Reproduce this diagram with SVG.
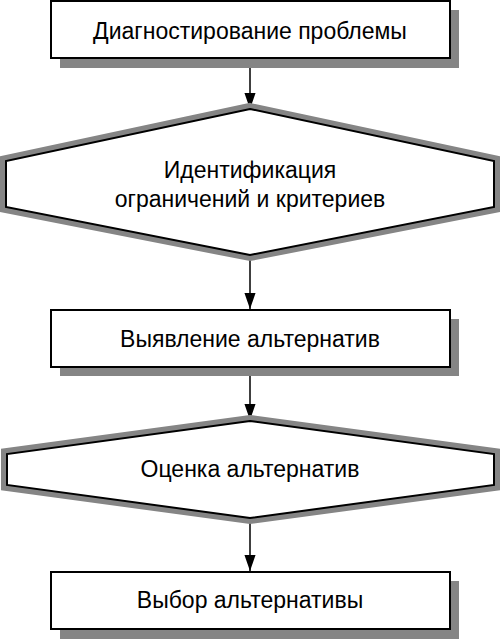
<svg xmlns="http://www.w3.org/2000/svg" width="501" height="639" viewBox="0 0 501 639">
<style>
.shadow{fill:#858585;stroke:none}
.box{fill:#fff;stroke:#000;stroke-width:2}
.hexsh{fill:none;stroke:#858585;stroke-width:12;stroke-linejoin:miter}
.hex{fill:#fff;stroke:#000;stroke-width:2;stroke-linejoin:miter}
.t{font-family:"Liberation Sans",Arial,sans-serif;font-size:23px;fill:#000;text-anchor:middle}
.conn{stroke:#000;stroke-width:1.5;fill:none}
</style>
<defs>
<marker id="ah" markerUnits="userSpaceOnUse" markerWidth="16" markerHeight="24" refX="23" refY="8" viewBox="0 0 23 16" orient="auto">
<path d="M0,0 L23,8 L0,16 Z" fill="#000"/>
</marker>
</defs>
<rect x="0" y="0" width="501" height="639" fill="#fff"/>
<g id="connectors">
<line class="conn" x1="250" y1="58" x2="250" y2="109" marker-end="url(#ah)"/>
<line class="conn" x1="250" y1="255" x2="250" y2="309" marker-end="url(#ah)"/>
<line class="conn" x1="250" y1="367" x2="250" y2="420" marker-end="url(#ah)"/>
<line class="conn" x1="250" y1="518" x2="250" y2="571" marker-end="url(#ah)"/>
</g>
<g id="node1">
<rect class="shadow" x="60" y="10" width="399" height="58"/>
<rect class="box" x="51" y="1" width="399" height="57"/>
<text class="t" x="250" y="39">Диагностирование проблемы</text>
</g>
<g id="node2">
<polygon class="hexsh" points="250,109 494,161 494,207 250,255 6,207 6,161"/>
<polygon class="hex" points="250,109 494,161 494,207 250,255 6,207 6,161"/>
<text class="t" x="250" y="178">Идентификация</text>
<text class="t" x="250" y="207">ограничений и критериев</text>
</g>
<g id="node3">
<rect class="shadow" x="60" y="319" width="399" height="57"/>
<rect class="box" x="51" y="310" width="399" height="57"/>
<text class="t" x="250" y="347">Выявление альтернатив</text>
</g>
<g id="node4">
<polygon class="hexsh" points="250,421 494,454 494,485 250,518 7,485 7,454"/>
<polygon class="hex" points="250,421 494,454 494,485 250,518 7,485 7,454"/>
<text class="t" x="250" y="477">Оценка альтернатив</text>
</g>
<g id="node5">
<rect class="shadow" x="60" y="581" width="399" height="58"/>
<rect class="box" x="51" y="572" width="399" height="57"/>
<text class="t" x="250" y="608">Выбор альтернативы</text>
</g>
</svg>
